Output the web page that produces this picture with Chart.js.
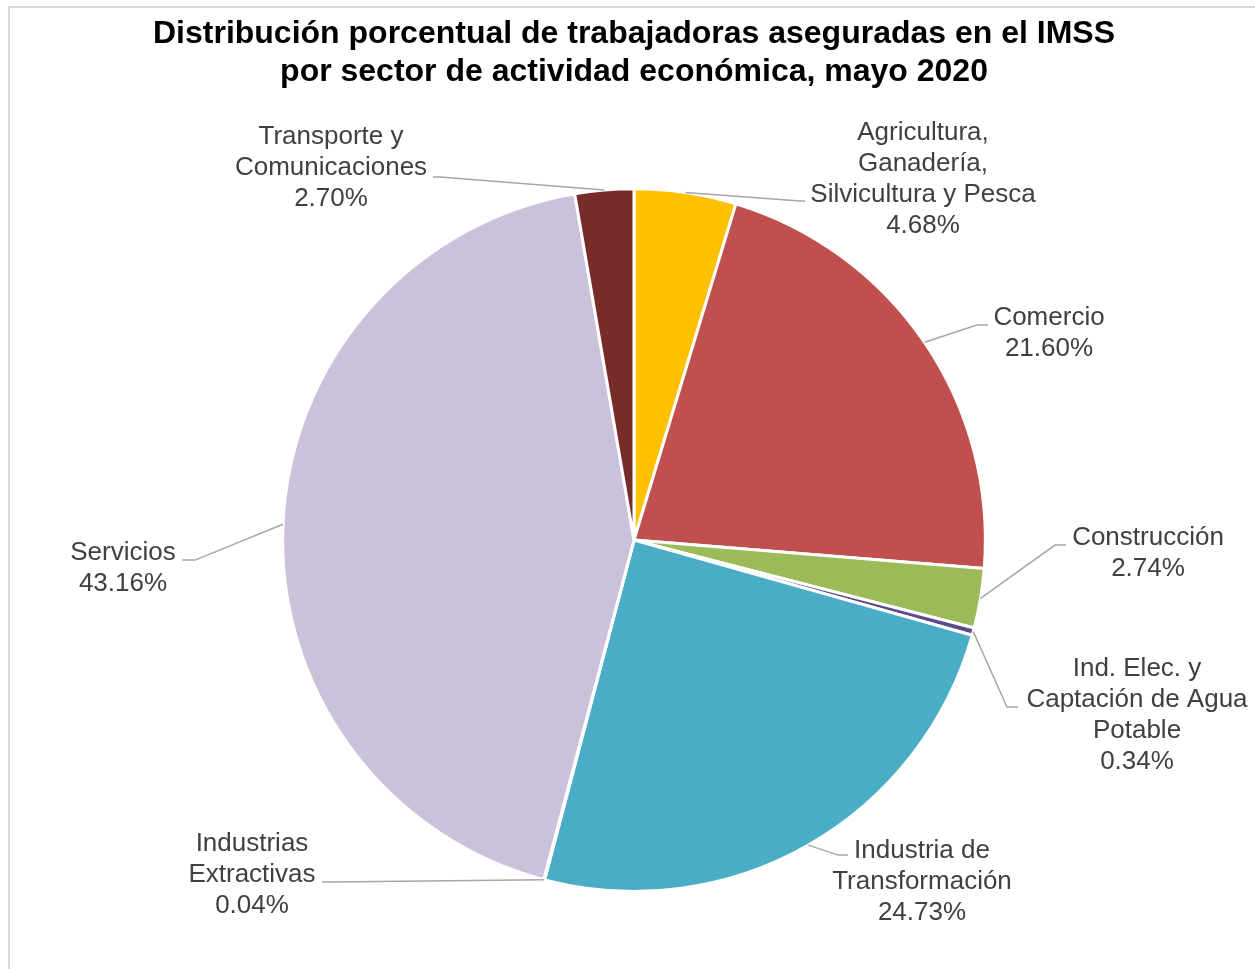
<!DOCTYPE html>
<html lang="es">
<head>
<meta charset="utf-8">
<title>Trabajadoras aseguradas en el IMSS, mayo 2020</title>
<script src="https://cdn.jsdelivr.net/npm/chart.js@4/dist/chart.umd.min.js"></script>
<style>
    body { margin: 0; background: #ffffff; }
    #wrap { position: relative; width: 1255px; height: 969px; overflow: hidden; }
    #frame {
        position: absolute; left: 8px; top: 6px; width: 1300px; height: 1000px;
        border-top: 2px solid #d9d9d9; border-left: 2px solid #d9d9d9;
    }
    #sectorChart { position: absolute; left: 0; top: 0; }
</style>
</head>
<body>
<div id="wrap">
    <div id="frame"></div>
    <canvas id="sectorChart" width="1255" height="969"></canvas>
</div>
<script>
// Data
const sectores = [
    ["Agricultura,", "Ganadería,", "Silvicultura y Pesca"],
    ["Comercio"],
    ["Construcción"],
    ["Ind. Elec. y", "Captación de Agua", "Potable"],
    ["Industria de", "Transformación"],
    ["Industrias", "Extractivas"],
    ["Servicios"],
    ["Transporte y", "Comunicaciones"]
];
const porcentajes = [4.68, 21.60, 2.74, 0.34, 24.73, 0.04, 43.16, 2.70];
const colores = ["#FFC000", "#C0504D", "#9BBB59", "#5F4A8B", "#4BACC6", "#F79646", "#CCC1DA", "#772C2A"];

// Label layout, offsets from the pie centre (text block centre, leader elbow, leader end)
const labelCentro = [[289, -361], [415, -207], [514, 13], [503, 175], [288, 342], [-382, 335], [-511, 28], [-303, -372]];
const codo = [[166, -339], [343, -215], [421, 5], [373, 167], [204, 315], [-304, 342], [-439, 20], [-194, -363]];
const finLinea = [[171, -339], [354, -215], [432, 5], [384, 167], [214, 315], [-312, 342], [-452, 20], [-201, -363]];

const labelFont = '26px "Liberation Sans", Arial, sans-serif';
const lineStep = 31;

// Plugin that draws the outside labels with their leader lines
const outsideLabels = {
    id: 'outsideLabels',
    afterDatasetsDraw(chart) {
        const c = chart.ctx;
        const arcs = chart.getDatasetMeta(0).data;
        c.save();
        arcs.forEach((arc, i) => {
            const p = arc.getProps(['x', 'y', 'startAngle', 'endAngle', 'outerRadius'], true);
            const mid = (p.startAngle + p.endAngle) / 2;
            const sx = p.x + Math.cos(mid) * p.outerRadius;
            const sy = p.y + Math.sin(mid) * p.outerRadius;

            // leader line
            c.strokeStyle = '#a6a6a6';
            c.lineWidth = 1.5;
            c.beginPath();
            c.moveTo(sx, sy);
            c.lineTo(p.x + codo[i][0], p.y + codo[i][1]);
            c.lineTo(p.x + finLinea[i][0], p.y + finLinea[i][1]);
            c.stroke();

            // text
            const lines = sectores[i].concat([porcentajes[i].toFixed(2) + '%']);
            const cx = p.x + labelCentro[i][0];
            const top = p.y + labelCentro[i][1] - (lines.length - 1) * lineStep / 2;
            c.fillStyle = '#404040';
            c.font = labelFont;
            c.textAlign = 'center';
            c.textBaseline = 'middle';
            lines.forEach((t, k) => c.fillText(t, cx, top + k * lineStep));
        });
        c.restore();
    }
};

const ctx = document.getElementById('sectorChart');

new Chart(ctx, {
    type: 'pie',
    data: {
        labels: sectores.map(s => s.join(' ')),
        datasets: [{
            data: porcentajes,
            backgroundColor: colores,
            borderColor: '#ffffff',
            borderWidth: 3
        }]
    },
    options: {
        responsive: false,
        animation: false,
        layout: {
            padding: { top: 16, left: 13, right: 0, bottom: 76 }
        },
        plugins: {
            legend: { display: false },
            tooltip: { enabled: false },
            title: {
                display: true,
                text: [
                    'Distribución porcentual de trabajadoras aseguradas en el IMSS',
                    'por sector de actividad económica, mayo 2020'
                ],
                color: '#000000',
                font: { family: '"Liberation Sans", Arial, sans-serif', size: 32, weight: 'bold', lineHeight: 1.16 },
                padding: { top: 0, bottom: 97 }
            }
        }
    },
    plugins: [outsideLabels]
});
</script>
</body>
</html>
